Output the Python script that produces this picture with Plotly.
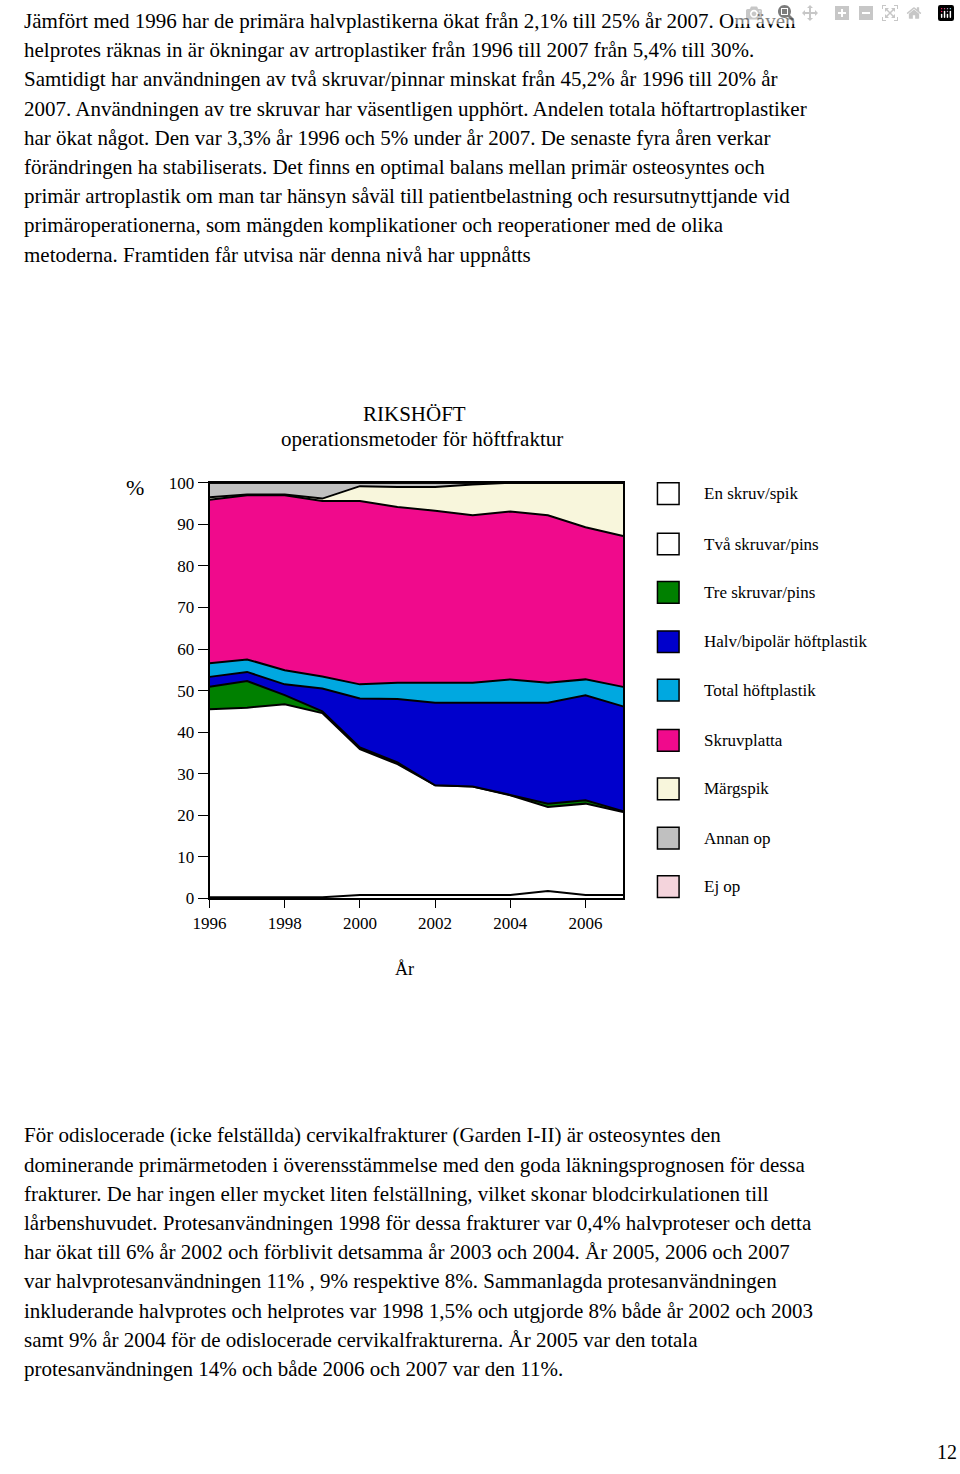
import plotly.graph_objects as go

years = list(range(1996, 2008))
series_names = ["En skruv/spik", "Två skruvar/pins", "Tre skruvar/pins", "Halv/bipolär höftplastik",
                "Total höftplastik", "Skruvplatta", "Märgspik", "Annan op", "Ej op"]
en_skruv = [0.3, 0.3, 0.3, 0.3, 0.8, 0.8, 0.8, 0.8, 0.8, 1.8, 0.8, 0.8]
tva_skruvar = [45.2, 45.6, 46.4, 44.3, 35.1, 31.5, 26.4, 26.1, 24.0, 20.2, 22.0, 20.0]
tre_skruvar = [5.4, 6.4, 2.2, 0.4, 0.4, 0.4, 0.0, 0.0, 0.1, 0.8, 0.8, 0.2]
halvplastik = [2.4, 2.2, 2.6, 5.5, 11.8, 15.3, 19.9, 20.2, 22.2, 24.3, 25.3, 25.2]
totalplastik = [3.3, 3.0, 3.4, 2.9, 3.4, 3.9, 4.8, 4.8, 5.6, 4.8, 3.8, 4.7]
skruvplatta = [39.3, 39.5, 42.1, 42.2, 44.1, 42.3, 41.4, 40.3, 40.4, 40.3, 36.6, 36.3]
margspik = [0.6, 0.2, 0.2, 0.6, 3.6, 4.8, 5.7, 7.4, 6.9, 7.8, 10.7, 12.8]
annan_op = [3.5, 2.8, 2.8, 3.8, 0.8, 1.0, 1.0, 0.4, 0.0, 0.0, 0.0, 0.0]
ej_op = [0.0] * 12
all_series = [en_skruv, tva_skruvar, tre_skruvar, halvplastik, totalplastik,
              skruvplatta, margspik, annan_op, ej_op]
colors = ["#FFFFFF", "#FFFFFF", "#008000", "#0000CC", "#00A8E0", "#F00A8C", "#F8F6DC", "#C0C0C0", "#F4D4DC"]

top_text = [
    "Jämfört med 1996 har de primära halvplastikerna ökat från 2,1% till 25% år 2007. Om även",
    "helprotes räknas in är ökningar av artroplastiker från 1996 till 2007 från 5,4% till 30%.",
    "Samtidigt har användningen av två skruvar/pinnar minskat från 45,2% år 1996 till 20% år",
    "2007. Användningen av tre skruvar har väsentligen upphört. Andelen totala höftartroplastiker",
    "har ökat något. Den var 3,3% år 1996 och 5% under år 2007. De senaste fyra åren verkar",
    "förändringen ha stabiliserats. Det finns en optimal balans mellan primär osteosyntes och",
    "primär artroplastik om man tar hänsyn såväl till patientbelastning och resursutnyttjande vid",
    "primäroperationerna, som mängden komplikationer och reoperationer med de olika",
    "metoderna. Framtiden får utvisa när denna nivå har uppnåtts",
]
bottom_text = [
    "För odislocerade (icke felställda) cervikalfrakturer (Garden I-II) är osteosyntes den",
    "dominerande primärmetoden i överensstämmelse med den goda läkningsprognosen för dessa",
    "frakturer. De har ingen eller mycket liten felställning, vilket skonar blodcirkulationen till",
    "lårbenshuvudet. Protesanvändningen 1998 för dessa frakturer var 0,4% halvproteser och detta",
    "har ökat till 6% år 2002 och förblivit detsamma år 2003 och 2004. År 2005, 2006 och 2007",
    "var halvprotesanvändningen 11% , 9% respektive 8%. Sammanlagda protesanvändningen",
    "inkluderande halvprotes och helprotes var 1998 1,5% och utgjorde 8% både år 2002 och 2003",
    "samt 9% år 2004 för de odislocerade cervikalfrakturerna. År 2005 var den totala",
    "protesanvändningen 14% och både 2006 och 2007 var den 11%.",
]

W, H = 960, 1474
SERIF = "Liberation Serif"
fig = go.Figure()
for name, vals, c in zip(series_names, all_series, colors):
    fig.add_trace(go.Scatter(x=years, y=vals, name=name, stackgroup="one", mode="lines",
                             line=dict(color="black", width=2), fillcolor=c))

def px(x, y):
    return x / W, 1 - y / H

ann = []
def add_text(t, xx, yy, size, anchor="left"):
    x, y = px(xx, yy)
    ann.append(dict(x=x, y=y, xref="paper", yref="paper", text=t, showarrow=False,
                    xanchor=anchor, yanchor="middle",
                    font=dict(family=SERIF, size=size, color="black")))

for i, t in enumerate(top_text):
    add_text(t, 5, 12 + i * 29.6, 21)
for i, t in enumerate(bottom_text):
    add_text(t, 5, 1141 + i * 29.6, 21)
add_text("RIKSHÖFT", 405, 410, 21, "center")
add_text("operationsmetoder för höftfraktur", 412, 436, 21, "center")
add_text("%", 120, 485, 22, "center")
add_text("År", 394, 973, 18, "center")
add_text("12", 947, 1462, 20, "center")

shapes = []
leg_y = [491, 542, 591, 641, 690, 741, 790, 840, 889]
for name, c, ly in zip(series_names, colors, leg_y):
    x0, y0 = px(652, ly - 11)
    x1, y1 = px(674, ly + 11)
    shapes.append(dict(type="rect", xref="paper", yref="paper", x0=x0, x1=x1, y0=y1, y1=y0,
                       fillcolor=c, line=dict(color="black", width=1.5)))
    add_text(name, 697, ly, 17)

fig.update_layout(
    width=W, height=H, margin=dict(l=0, r=0, t=0, b=0),
    paper_bgcolor="white", plot_bgcolor="white", showlegend=False,
    annotations=ann, shapes=shapes,
    xaxis=dict(domain=[196 / W, 617 / W], range=[1996, 2007], tickvals=list(range(1996, 2007, 2)),
               showgrid=False, zeroline=False, showline=True, linecolor="black", linewidth=2,
               mirror=True, ticks="outside", ticklen=8, tickcolor="black",
               tickfont=dict(family=SERIF, size=17, color="black")),
    yaxis=dict(domain=[1 - 901 / H, 1 - 480 / H], range=[0, 100], dtick=10,
               showgrid=False, zeroline=False, showline=True, linecolor="black", linewidth=2,
               mirror=True, ticks="outside", ticklen=10, tickcolor="black",
               tickfont=dict(family=SERIF, size=17, color="black")),
)
fig.write_html("out.html", post_script="document.body.style.margin='0';document.body.style.overflow='hidden';")
